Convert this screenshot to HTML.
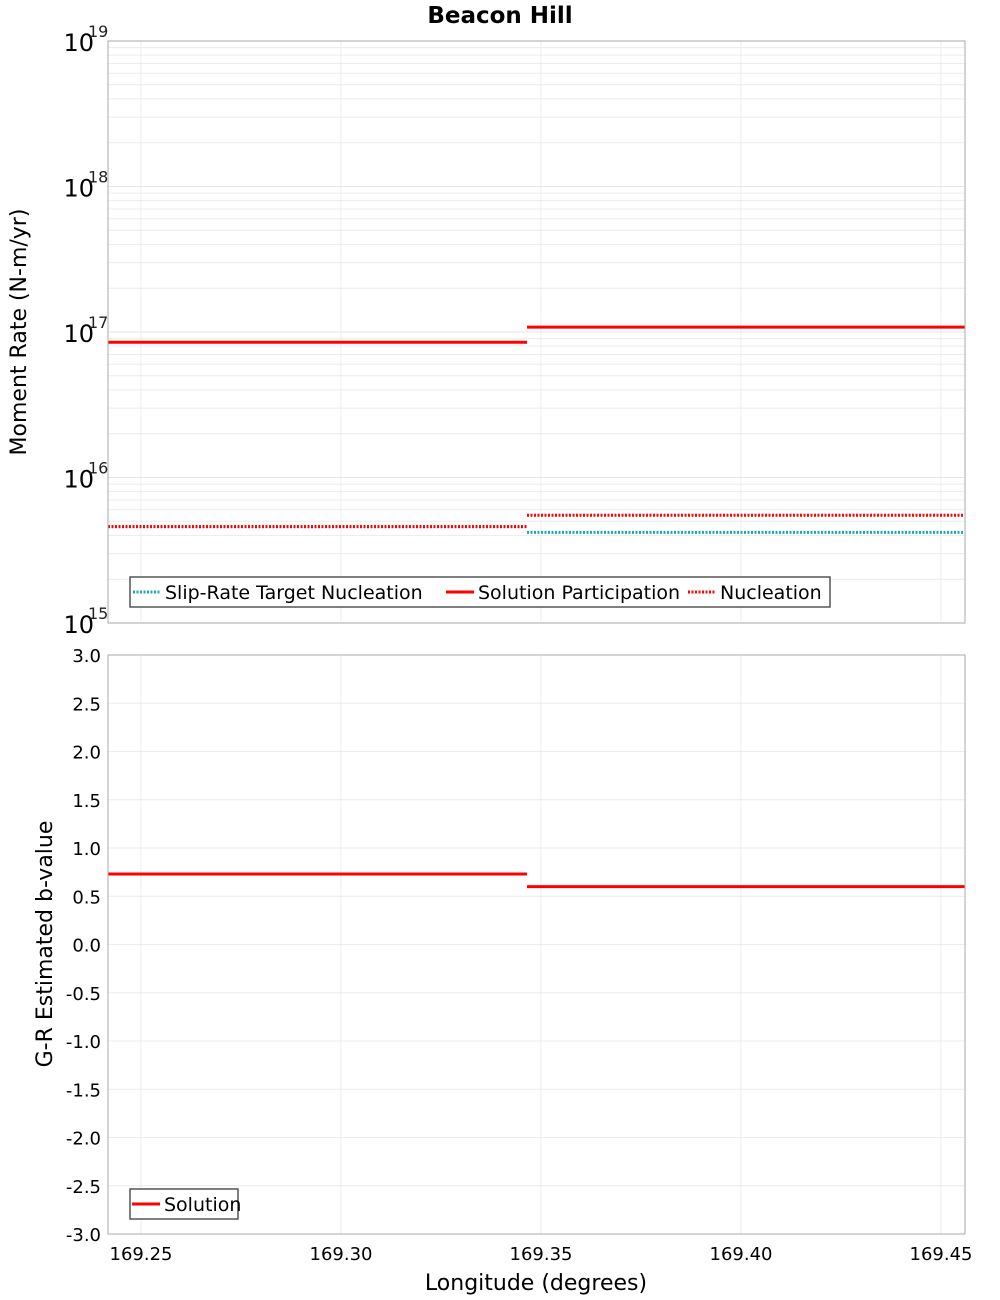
<!DOCTYPE html>
<html><head><meta charset="utf-8"><style>
body{margin:0;background:#fff;}
svg{display:block;font-family:"DejaVu Sans","Liberation Sans",sans-serif;}
</style></head><body>
<svg id="chart" width="1000" height="1300" viewBox="0 0 1000 1300" xmlns="http://www.w3.org/2000/svg">
<text x="500" y="23" text-anchor="middle" font-size="23" font-weight="bold">Beacon Hill</text>
<g id="topPlot"></g>
<g id="botPlot"></g>
<text transform="translate(26,332) rotate(-90)" text-anchor="middle" font-size="22">Moment Rate (N-m/yr)</text>
<text transform="translate(52,944) rotate(-90)" text-anchor="middle" font-size="22">G-R Estimated b-value</text>
<text x="536" y="1290" text-anchor="middle" font-size="22">Longitude (degrees)</text>
</svg>
<script>
const xTicks=[169.25,169.30,169.35,169.40,169.45];
const xMin=169.24175, xMax=169.45600;
const breakLon=169.3465;
const decades=[15,16,17,18,19];
const slipTarget=[4.6e15,4.2e15];
const solPart=[8.5e16,1.08e17];
const nucleation=[4.6e15,5.5e15];
const bTicks=[3.0,2.5,2.0,1.5,1.0,0.5,0.0,-0.5,-1.0,-1.5,-2.0,-2.5,-3.0];
const bValues=[0.73,0.60];

const NS="http://www.w3.org/2000/svg";
const L=108,R=965;
const T1=41,B1=623,T2=655,B2=1234;
function X(v){return L+(v-xMin)/(xMax-xMin)*(R-L);}
function Ylog(v){return B1-(Math.log10(v)-15)/4*(B1-T1);}
function Yb(v){return B2-(v+3)/6*(B2-T2);}
function mk(parent,tag,attrs){const e=document.createElementNS(NS,tag);for(const k in attrs)e.setAttribute(k,attrs[k]);parent.appendChild(e);return e;}
const topG=document.getElementById('topPlot'),botG=document.getElementById('botPlot');

for(let d=15;d<19;d++){for(let k=2;k<=9;k++){const y=Ylog(k*Math.pow(10,d));
const l=mk(topG,'line',{x1:L,x2:R,y1:y,y2:y,stroke:'#ececec','stroke-width':1});

}}
decades.forEach(d=>{const y=Ylog(Math.pow(10,d));
const l=mk(topG,'line',{x1:L,x2:R,y1:y,y2:y,stroke:'#e6e6e6','stroke-width':1});


const t=mk(topG,'text',{x:94,y:y+10,'text-anchor':'end','font-size':24});


t.textContent='10';
const s=mk(topG,'text',{x:88,y:y-4,'font-size':16,fill:'#222'});


s.textContent=String(d);});
xTicks.forEach(v=>{[[T1,B1,topG],[T2,B2,botG]].forEach(([a,b,g])=>{
const l=mk(g,'line',{x1:X(v),x2:X(v),y1:a,y2:b,stroke:'#ececec','stroke-width':1});

});
const t=mk(botG,'text',{x:X(v),y:1260,'text-anchor':'middle','font-size':18});


t.textContent=v.toFixed(2);});
bTicks.forEach(v=>{const y=Yb(v);
const l=mk(botG,'line',{x1:L,x2:R,y1:y,y2:y,stroke:'#ececec','stroke-width':1});


const t=mk(botG,'text',{x:101,y:y+7,'text-anchor':'end','font-size':18});


t.textContent=v.toFixed(1);});

function segs(g,arr,yf,color,dash,name){
const xs=[[xMin,breakLon],[breakLon,xMax]];
arr.forEach((v,i)=>{const a={x1:X(xs[i][0]),x2:X(xs[i][1]),y1:yf(v),y2:yf(v),stroke:color,'stroke-width':3};
if(dash)a['stroke-dasharray']=dash;
const l=mk(g,'line',a);

});}
segs(topG,slipTarget,Ylog,'#1aacac','2,1.5','slip-rate-target');
segs(topG,solPart,Ylog,'#ff0000',null,'solution-participation');
segs(topG,nucleation,Ylog,'#ff0000','2,1.5','nucleation');
segs(botG,bValues,Yb,'#ff0000',null,'b-value-solution');

[[T1,B1,topG],[T2,B2,botG]].forEach(([a,b,g])=>{const r=mk(g,'rect',{x:L,y:a,width:R-L,height:b-a,fill:'none',stroke:'#aaa','stroke-width':1});

});

function legend(g,x,y,w,items){const r=mk(g,'rect',{x:x,y:y,width:w,height:30,fill:'#fff',stroke:'#555','stroke-width':1.5});


items.forEach(it=>{const a={x1:it.x,x2:it.x+28,y1:y+15,y2:y+15,stroke:it.c,'stroke-width':3};if(it.d)a['stroke-dasharray']=it.d;
const l=mk(g,'line',a);


const t=mk(g,'text',{x:it.x+32,y:y+22,'font-size':19});


t.textContent=it.t;});}
legend(topG,130,577,700,[{x:133,c:'#1aacac',d:'2,1.5',t:'Slip-Rate Target Nucleation'},{x:446,c:'#ff0000',t:'Solution Participation'},{x:688,c:'#ff0000',d:'2,1.5',t:'Nucleation'}]);
legend(botG,130,1189,108,[{x:132,c:'#ff0000',t:'Solution'}]);
</script>
</body></html>
